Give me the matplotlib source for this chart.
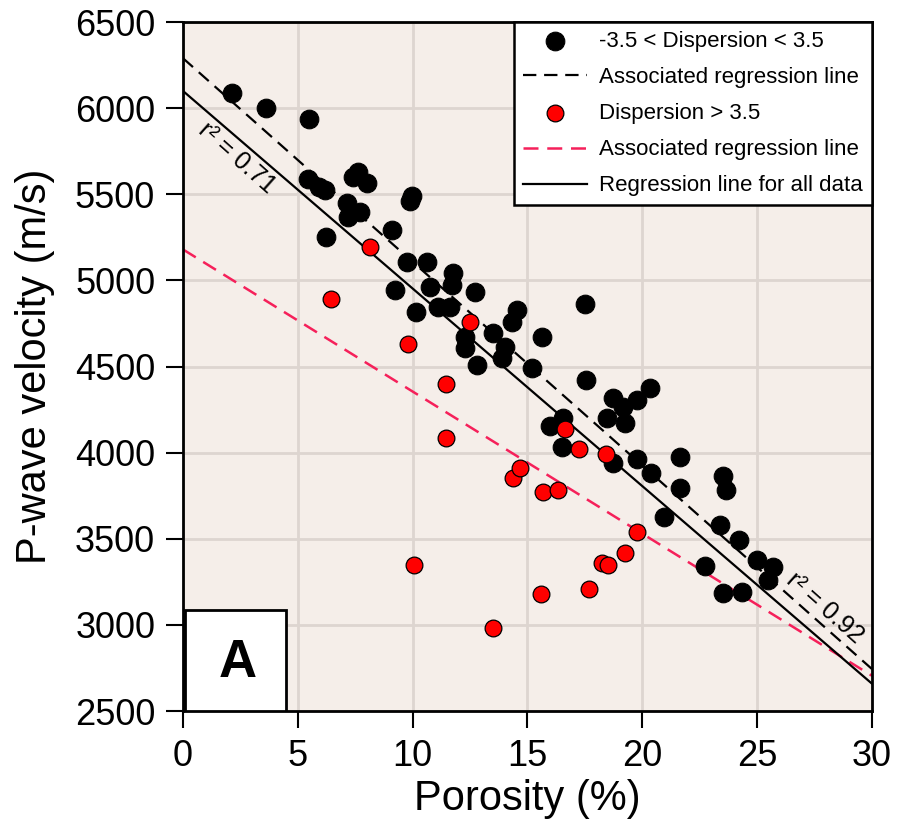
import numpy as np
import matplotlib.pyplot as plt
from matplotlib.patches import Rectangle

plt.rcParams['font.family'] = ['Liberation Sans', 'DejaVu Sans']

# Samples with -3.5 < dispersion < 3.5
blk_por = [2.15, 3.6, 5.5, 5.45, 5.93, 6.18, 7.63, 7.41, 8.0, 9.88, 9.95,
           7.13, 7.71, 7.2, 9.09, 6.21, 9.74, 10.61, 11.77, 11.7, 10.75,
           12.71, 9.23, 11.11, 11.62, 10.14, 14.53, 14.31, 13.51, 12.28, 12.28,
           14.02, 13.87, 12.79, 15.2, 17.5, 15.62, 17.54, 20.33, 18.73, 19.75,
           19.17, 18.45, 19.24, 15.98, 16.55, 16.49, 18.73, 19.75, 20.37, 21.64,
           21.64, 23.52, 23.63, 20.94, 23.38, 24.22, 24.98, 25.7, 25.48, 22.72,
           23.52, 24.32]
blk_vp = [6086, 5999, 5937, 5587, 5544, 5525, 5631, 5602, 5567, 5461, 5490,
          5447, 5399, 5370, 5292, 5254, 5108, 5108, 5041, 4973, 4963,
          4931, 4944, 4847, 4847, 4818, 4828, 4760, 4693, 4673, 4606,
          4615, 4548, 4509, 4490, 4863, 4670, 4422, 4373, 4316, 4306,
          4267, 4199, 4170, 4155, 4199, 4034, 3938, 3961, 3880, 3976,
          3796, 3864, 3783, 3624, 3580, 3493, 3377, 3338, 3261, 3342,
          3183, 3193]

# Samples with dispersion > 3.5
red_por = [6.44, 8.16, 9.81, 11.44, 11.44, 10.07, 13.48, 15.59, 17.69, 18.23,
           18.52, 19.24, 19.75, 14.38, 14.67, 15.69, 16.35, 16.63, 17.25, 18.42,
           12.49]
red_vp = [4890, 5194, 4629, 4397, 4083, 3348, 2980, 3177, 3207, 3361,
          3348, 3415, 3541, 3853, 3909, 3771, 3786, 4135, 4021, 3992,
          4760]

# Regression lines (intercept, slope)
blk_fit = (6290, -118.2)
red_fit = (5180, -82.5)
all_fit = (6100, -114.7)

fig = plt.figure(figsize=(8.97, 8.23), dpi=100)
ax = fig.add_axes([0.204, 0.136, 0.7681, 0.8372])
ax.set_facecolor('#f5eee9')
ax.grid(True, color='#ddd5d0', lw=2)
ax.set_axisbelow(True)

xs = np.array([0.0, 30.0])
l_bd, = ax.plot(xs, blk_fit[0] + blk_fit[1] * xs, color='k', lw=1.6,
                ls=(0, (6, 3.5)), zorder=2)
l_rd, = ax.plot(xs, red_fit[0] + red_fit[1] * xs, color='#f5205a', lw=1.8,
                ls=(0, (6, 3.5)), zorder=2)
l_all, = ax.plot(xs, all_fit[0] + all_fit[1] * xs, color='k', lw=1.6, zorder=2)

sc_b = ax.scatter(blk_por, blk_vp, s=180, c='k', edgecolors='k', lw=0.8, zorder=3)
sc_r = ax.scatter(red_por, red_vp, s=145, c='#ff0000', edgecolors='k', lw=0.9, zorder=4)

ax.text(2.34, 5709, 'r² = 0.71', rotation=-41.5, ha='center', va='center',
        fontsize=18, rotation_mode='anchor', zorder=5)
ax.text(27.95, 3098, 'r² = 0.92', rotation=-41.5, ha='center', va='center',
        fontsize=18, rotation_mode='anchor', zorder=5)

leg = ax.legend([sc_b, l_bd, sc_r, l_rd, l_all],
                ['-3.5 < Dispersion < 3.5', 'Associated regression line',
                 'Dispersion > 3.5', 'Associated regression line',
                 'Regression line for all data'],
                loc='upper right', bbox_to_anchor=(1, 1), borderaxespad=0,
                fontsize=16, fancybox=False, edgecolor='k', framealpha=1,
                handlelength=2.9, handletextpad=0.55, labelspacing=0.68,
                borderpad=0.4, scatterpoints=1)
leg.get_frame().set_linewidth(1.8)

ax.add_patch(Rectangle((0.003, 0), 0.147, 0.147, transform=ax.transAxes,
                       facecolor='white', edgecolor='k', lw=2, zorder=5))
ax.text(0.08, 0.07, 'A', transform=ax.transAxes, fontsize=38,
        fontweight='bold', ha='center', va='center', zorder=6)

ax.set_xlim(0, 30)
ax.set_ylim(2500, 6500)
ax.set_xticks(range(0, 31, 5))
ax.set_yticks(range(2500, 6501, 500))
ax.tick_params(labelsize=26, direction='out', length=12, width=1.5, pad=8)
for sp in ax.spines.values():
    sp.set_linewidth(2)

ax.set_xlabel('Porosity (%)', fontsize=30, labelpad=4)
ax.set_ylabel('P-wave velocity (m/s)', fontsize=30, labelpad=14)

fig.savefig('out.png', dpi=100)
